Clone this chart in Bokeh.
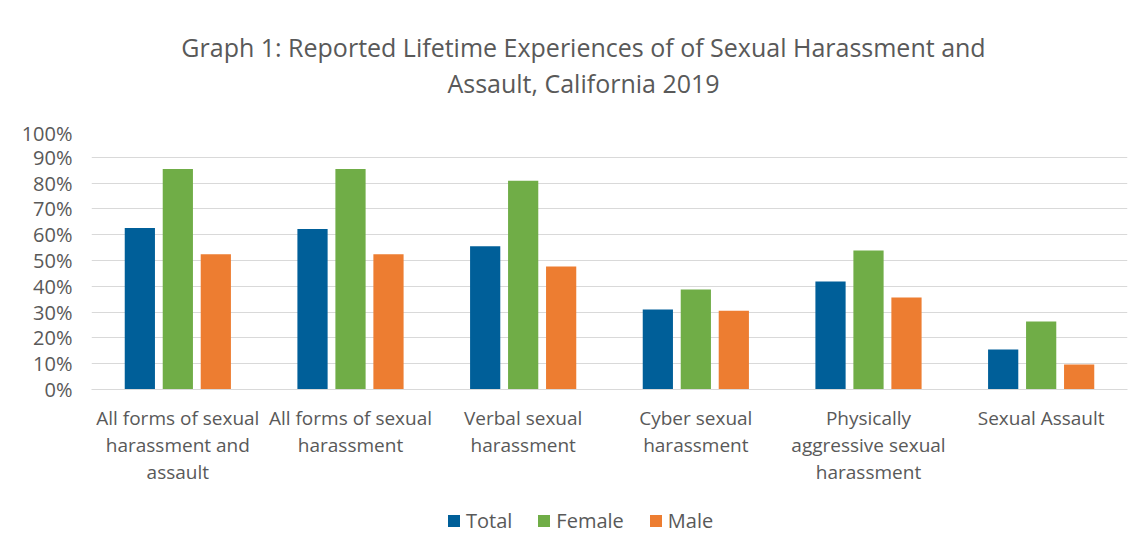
from bokeh.plotting import figure
from bokeh.layouts import column
from bokeh.models import (ColumnDataSource, FactorRange, NumeralTickFormatter, Legend,
                          LegendItem, FixedTicker, Label)
from bokeh.transform import dodge
from bokeh.embed import file_html
from bokeh.resources import INLINE

categories = [
    "All forms of sexual\nharassment and\nassault",
    "All forms of sexual\nharassment",
    "Verbal sexual\nharassment",
    "Cyber sexual\nharassment",
    "Physically\naggressive sexual\nharassment",
    "Sexual Assault",
]
total = [0.626, 0.622, 0.555, 0.310, 0.419, 0.155]
female = [0.855, 0.855, 0.809, 0.388, 0.539, 0.264]
male = [0.524, 0.524, 0.477, 0.305, 0.357, 0.097]
series_names = ["Total", "Female", "Male"]
colors = ["#005f99", "#70ad47", "#ed7d31"]
y_ticks = [0, 0.1, 0.2, 0.3, 0.4, 0.5, 0.6, 0.7, 0.8, 0.9, 1.0]
title_lines = ["Graph 1: Reported Lifetime Experiences of of Sexual Harassment and",
               "Assault, California 2019"]

FONT = "Open Sans"
GRAY = "#595959"
LEFT, FW, RIGHT = 91, 1036, 2
offsets = [-0.22, 0.0, 0.22]


def bare(fig):
    fig.axis.visible = False
    fig.grid.grid_line_color = None
    fig.outline_line_color = None
    fig.border_fill_color = "white"
    return fig


source = ColumnDataSource(dict(cat=categories, Total=total, Female=female, Male=male))

# ---- title strip ----
TH = 119
t = bare(figure(x_range=(0, FW), y_range=(0, TH), frame_width=FW, frame_height=TH,
                min_border_left=LEFT, min_border_right=RIGHT, min_border_top=0,
                min_border_bottom=0, output_backend="svg", toolbar_location=None))
for txt, ypix in zip(title_lines, [46, 82]):
    t.add_layout(Label(x=583 - LEFT, y=TH - ypix, text=txt, text_align="center",
                       text_baseline="middle", text_font=FONT, text_font_size="25px",
                       text_color=GRAY))

# ---- main chart ----
p = figure(x_range=FactorRange(*categories), y_range=(0, 1.0),
           frame_width=FW, frame_height=258,
           output_backend="svg", toolbar_location=None,
           min_border_left=LEFT, min_border_right=RIGHT, min_border_top=12,
           min_border_bottom=105)

for name, col, off in zip(series_names, colors, offsets):
    p.vbar(x=dodge("cat", off, range=p.x_range), top=name, width=0.175, source=source,
           fill_color=col, line_color=None)

p.yaxis.ticker = FixedTicker(ticks=y_ticks)
p.yaxis.formatter = NumeralTickFormatter(format="0%")
p.yaxis.axis_line_color = None
p.yaxis.major_tick_line_color = None
p.yaxis.minor_tick_line_color = None
p.yaxis.major_label_text_font = FONT
p.yaxis.major_label_text_font_size = "20px"
p.yaxis.major_label_text_color = GRAY
p.yaxis.major_label_standoff = 13

p.xaxis.axis_line_color = "#d9d9d9"
p.xaxis.major_tick_line_color = None
p.xaxis.minor_tick_line_color = None
p.xaxis.major_label_text_font = FONT
p.xaxis.major_label_text_font_size = "19px"
p.xaxis.major_label_text_color = GRAY
p.xaxis.major_label_text_line_height = 1.05
p.xaxis.major_label_standoff = 9

p.xgrid.grid_line_color = None
p.ygrid.grid_line_color = "#d9d9d9"
p.outline_line_color = None
p.border_fill_color = "white"

# ---- legend strip (same series as zero-width bars outside its y range) ----
LH = 40
lg = bare(figure(x_range=FactorRange(*categories), y_range=(5, 6), frame_width=FW,
                 frame_height=LH, min_border_left=LEFT, min_border_right=RIGHT,
                 min_border_top=0, min_border_bottom=0,
                 output_backend="svg", toolbar_location=None))
items = []
for name, col, off in zip(series_names, colors, offsets):
    r = lg.vbar(x=dodge("cat", off, range=lg.x_range), top=name, width=0.0,
                source=source, fill_color=col, line_color=None)
    items.append(LegendItem(label=name, renderers=[r]))
legend = Legend(items=items, orientation="horizontal", location=(446 - LEFT, 0),
                label_text_font=FONT, label_text_font_size="20px", label_text_color=GRAY,
                glyph_width=15, glyph_height=15, spacing=24, label_standoff=5,
                border_line_color=None, background_fill_alpha=0, margin=0, padding=4)
lg.add_layout(legend)

layout = column(t, p, lg, spacing=0)
open("out.html", "w").write(file_html(layout, INLINE))
